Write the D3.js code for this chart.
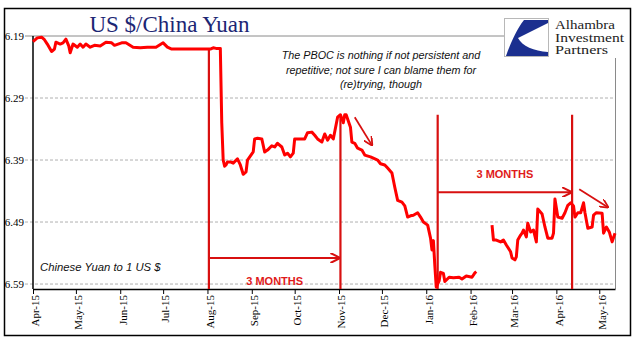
<!DOCTYPE html>
<html><head><meta charset="utf-8">
<script src="https://cdn.jsdelivr.net/npm/d3@7"></script>
<style>body{margin:0;background:#fff}svg{display:block}</style>
</head><body>
<svg id="c" width="641" height="341"></svg>
<script>
// ---------- DATA ----------
const seriesDates = [
"2015-04-01","2015-04-04","2015-04-07","2015-04-09","2015-04-11","2015-04-14","2015-04-16","2015-04-17","2015-04-20","2015-04-22",
"2015-04-24","2015-04-26","2015-04-27","2015-04-29","2015-05-02","2015-05-04","2015-05-06","2015-05-08","2015-05-11","2015-05-14",
"2015-05-18","2015-05-22","2015-05-26","2015-05-28","2015-06-02","2015-06-05","2015-06-10","2015-06-15","2015-06-20","2015-06-26",
"2015-07-01","2015-07-04","2015-07-07","2015-07-20","2015-08-03","2015-08-05","2015-08-07","2015-08-10",
"2015-08-11","2015-08-12","2015-08-13","2015-08-14","2015-08-15","2015-08-17","2015-08-19","2015-08-22","2015-08-24","2015-08-26",
"2015-08-28","2015-08-29","2015-09-02","2015-09-03","2015-09-05","2015-09-08","2015-09-10","2015-09-12","2015-09-15","2015-09-17",
"2015-09-19","2015-09-22","2015-09-24","2015-09-26","2015-09-28","2015-09-30","2015-10-01","2015-10-05","2015-10-08","2015-10-10",
"2015-10-13","2015-10-15","2015-10-17","2015-10-20","2015-10-22","2015-10-24","2015-10-26","2015-10-28","2015-10-31","2015-11-02",
"2015-11-04","2015-11-05","2015-11-06","2015-11-09","2015-11-10","2015-11-12","2015-11-14","2015-11-17","2015-11-19","2015-11-23",
"2015-11-25","2015-11-28","2015-11-30","2015-12-03","2015-12-05","2015-12-08","2015-12-10","2015-12-12","2015-12-15","2015-12-17",
"2015-12-19","2015-12-21","2015-12-23","2015-12-26","2015-12-28","2015-12-30","2016-01-02","2016-01-04","2016-01-05","2016-01-06",
"2016-01-07","2016-01-08","2016-01-10","2016-01-11","2016-01-13","2016-01-14","2016-01-17","2016-01-20","2016-01-24","2016-01-26",
"2016-01-29","2016-02-02","2016-02-04","2016-02-05","2016-02-10",
"2016-02-16","2016-02-17","2016-02-19","2016-02-22","2016-02-24","2016-02-26","2016-02-29","2016-03-01","2016-03-03","2016-03-04",
"2016-03-05","2016-03-07","2016-03-08","2016-03-09","2016-03-11","2016-03-12","2016-03-14","2016-03-16","2016-03-18","2016-03-19",
"2016-03-22","2016-03-24","2016-03-26","2016-03-29","2016-03-30","2016-03-31","2016-04-02","2016-04-05","2016-04-07","2016-04-09",
"2016-04-11","2016-04-13","2016-04-14","2016-04-16","2016-04-18","2016-04-20","2016-04-21","2016-04-23","2016-04-26","2016-04-27",
"2016-04-29","2016-05-03","2016-05-04","2016-05-06","2016-05-08","2016-05-10","2016-05-12"
];
const seriesValues = [
6.199,6.193,6.192,6.196,6.203,6.215,6.211,6.200,6.203,6.201,
6.195,6.206,6.217,6.203,6.208,6.203,6.208,6.203,6.208,6.205,
6.206,6.200,6.201,6.205,6.201,6.201,6.208,6.209,6.208,6.208,
6.201,6.208,6.211,6.211,6.211,6.209,6.210,6.210,
6.330,6.390,6.400,6.398,6.393,6.393,6.395,6.388,6.398,6.413,
6.409,6.390,6.377,6.356,6.355,6.356,6.377,6.374,6.367,6.369,
6.363,6.369,6.382,6.379,6.385,6.379,6.356,6.356,6.356,6.346,
6.345,6.350,6.356,6.361,6.348,6.358,6.350,6.356,6.321,6.317,
6.330,6.317,6.317,6.337,6.361,6.363,6.371,6.374,6.382,6.385,
6.387,6.390,6.396,6.398,6.403,6.411,6.434,6.455,6.458,6.464,
6.482,6.480,6.479,6.475,6.482,6.490,6.495,6.516,6.535,6.520,
6.560,6.595,6.585,6.571,6.573,6.586,6.579,6.580,6.579,6.582,
6.577,6.579,6.572,6.570,null,
6.495,6.519,6.519,6.522,6.519,6.527,6.538,6.548,6.551,6.546,
6.519,6.511,6.508,6.503,6.514,6.492,6.506,6.503,6.522,6.469,
6.477,6.498,6.516,6.516,6.508,6.453,6.482,6.484,6.475,6.463,
6.459,6.464,6.482,6.475,6.475,6.459,6.475,6.500,6.498,6.479,
6.475,6.476,6.508,6.498,6.506,6.522,6.508
];
const yTickValues = [6.19, 6.29, 6.39, 6.49, 6.59];
const xTickDates = ["2015-04-01","2015-05-01","2015-06-01","2015-07-01","2015-08-01","2015-09-01","2015-10-01",
                    "2015-11-01","2015-12-01","2016-01-01","2016-02-01","2016-03-01","2016-04-01","2016-05-01"];
// annotations
const markerDates = ["2015-08-02","2015-11-02","2016-01-09","2016-04-12"];
const markerTops  = [6.211, 6.317, 6.317, 6.317];
const spanStarts  = ["2015-08-02","2016-01-09"];
const spanEnds    = ["2015-11-02","2016-04-12"];
const spanLevels  = [6.548, 6.442];
const spanLabelLevels = [6.585, 6.412];
const spanLabels  = ["3 MONTHS","3 MONTHS"];
const trendFrom   = [["2015-11-12",6.321],["2016-04-17",6.437]];
const trendTo     = [["2015-11-24",6.366],["2016-05-07",6.466]];
const titleText = "US $/China Yuan";
const noteLines = ["The PBOC is nothing if not persistent and","repetitive; not sure I can blame them for","(re)trying, though"];
const unitText = "Chinese Yuan to 1 US $";
const logoLines = ["Alhambra","Investment","Partners"];
const logoWidths = [60, 69, 53];

// ---------- CHART ----------
const P = d3.timeParse("%Y-%m-%d");
const svg = d3.select("#c");
const L = 33, R = 615, T = 36, B = 289;
const x = d3.scaleTime().domain([P("2015-04-01"), P("2016-05-12")]).range([L, R]);
const y = d3.scaleLinear().domain([6.19, 6.598]).range([T, B]);

// outer frame
svg.append("rect").attr("x",4.5).attr("y",8.5).attr("width",626).attr("height",327)
  .attr("fill","none").attr("stroke","#000").attr("stroke-width",1.5);

// gridlines
yTickValues.forEach((v,i)=>{
  svg.append("line").attr("x1",25).attr("x2", i===0 ? 504 : R).attr("y1",y(v)).attr("y2",y(v))
    .attr("stroke", i===0 ? "#8a8a8a" : "#b0b0b0").attr("stroke-width",1)
    .attr("stroke-dasharray", i===0 ? null : "3,2");
});
// right border
svg.append("line").attr("x1",R+0.5).attr("x2",R+0.5).attr("y1",58).attr("y2",B).attr("stroke","#8a8a8a");

// y labels
svg.append("g").selectAll("text").data(yTickValues).join("text")
  .attr("x",24).attr("y",d=>y(d)).attr("dy","0.35em").attr("text-anchor","end")
  .attr("font-family","Liberation Serif").attr("font-size",11).attr("fill","#000")
  .text(d=>d.toFixed(2));

// x axis
const fmt = d3.timeFormat("%b-%y");
const xAxis = d3.axisBottom(x).tickValues(xTickDates.map(P)).tickFormat(fmt).tickSize(5).tickSizeOuter(0);
const gx = svg.append("g").attr("transform",`translate(0,${B})`).call(xAxis);
gx.select(".domain").attr("stroke","#000").attr("stroke-width",1.5);
gx.selectAll(".tick line").attr("stroke","#000");
gx.selectAll(".tick text").attr("font-family","Liberation Serif").attr("font-size",11).attr("fill","#000")
  .attr("text-anchor","end").attr("transform","rotate(-90)").attr("x",-6).attr("y",2).attr("dy","0.35em");
// y axis line
svg.append("line").attr("x1",L).attr("x2",L).attr("y1",T).attr("y2",B).attr("stroke","#000").attr("stroke-width",1.5);

// annotations
const annColor = "#d81010";
svg.append("defs").append("marker").attr("id","ah").attr("viewBox","0 0 10 10").attr("refX",9).attr("refY",5)
  .attr("markerWidth",5).attr("markerHeight",5).attr("orient","auto").attr("markerUnits","strokeWidth")
  .append("path").attr("d","M0,0 L10,5 L0,10").attr("fill","none").attr("stroke",annColor).attr("stroke-width",2);

markerDates.forEach((d,i)=>{
  svg.append("line").attr("x1",x(P(d))).attr("x2",x(P(d))).attr("y1",y(markerTops[i])).attr("y2",B)
    .attr("stroke",annColor).attr("stroke-width",2.2);
});
spanStarts.forEach((d,i)=>{
  svg.append("line").attr("x1",x(P(d))).attr("x2",x(P(spanEnds[i]))-1).attr("y1",y(spanLevels[i])).attr("y2",y(spanLevels[i]))
    .attr("stroke",annColor).attr("stroke-width",2).attr("marker-end","url(#ah)");
  svg.append("text").attr("x",(x(P(d))+x(P(spanEnds[i])))/2).attr("y",y(spanLabelLevels[i])).attr("dy","0.35em")
    .attr("text-anchor","middle").attr("font-family","Liberation Sans").attr("font-weight","bold")
    .attr("font-size",11).attr("fill","#e01a1a").text(spanLabels[i]);
});
trendFrom.forEach((a,i)=>{
  const b = trendTo[i];
  svg.append("line").attr("x1",x(P(a[0]))).attr("y1",y(a[1])).attr("x2",x(P(b[0]))).attr("y2",y(b[1]))
    .attr("stroke",annColor).attr("stroke-width",1.8).attr("marker-end","url(#ah)");
});

// series line
const data = seriesDates.map((d,i)=>({date:P(d), v:seriesValues[i]}));
const line = d3.line().defined(d=>d.v!==null).x(d=>x(d.date)).y(d=>y(d.v));
svg.append("path").datum(data).attr("d",line).attr("fill","none").attr("stroke","#ff0000")
  .attr("stroke-width",3).attr("stroke-linejoin","round");

// title
svg.append("text").attr("x",169.5).attr("y",32).attr("text-anchor","middle")
  .attr("font-family","Liberation Serif").attr("font-size",23).attr("fill","#1c2674").text(titleText);

// note
svg.append("g").selectAll("text").data(noteLines).join("text")
  .attr("x",381).attr("y",(d,i)=>59+i*14.5).attr("text-anchor","middle")
  .attr("font-family","Liberation Sans").attr("font-style","italic").attr("font-size",10.8).attr("fill","#111")
  .text(d=>d);
svg.append("text").attr("x",40).attr("y",271).attr("font-family","Liberation Sans").attr("font-style","italic")
  .attr("font-size",11.3).attr("fill","#111").text(unitText);

// logo
const lg = svg.append("g");
lg.append("rect").attr("x",504.5).attr("y",18.5).attr("width",44).attr("height",38).attr("fill","#fff").attr("stroke","#b8b8b8");
lg.append("path").attr("d","M524,20 L548,20 L548,23 L518,38 C522,46 534,51 548,52 L548,56 L506,56 C510,45 516,30 524,20 Z")
  .attr("fill","#1b2f8f");
lg.selectAll("text").data(logoLines).join("text").attr("x",555).attr("y",(d,i)=>29+i*12.5)
  .attr("font-family","Liberation Serif").attr("font-size",12).attr("fill","#222")
  .attr("textLength",(d,i)=>logoWidths[i]).attr("lengthAdjust","spacingAndGlyphs").text(d=>d);
</script>
</body></html>
